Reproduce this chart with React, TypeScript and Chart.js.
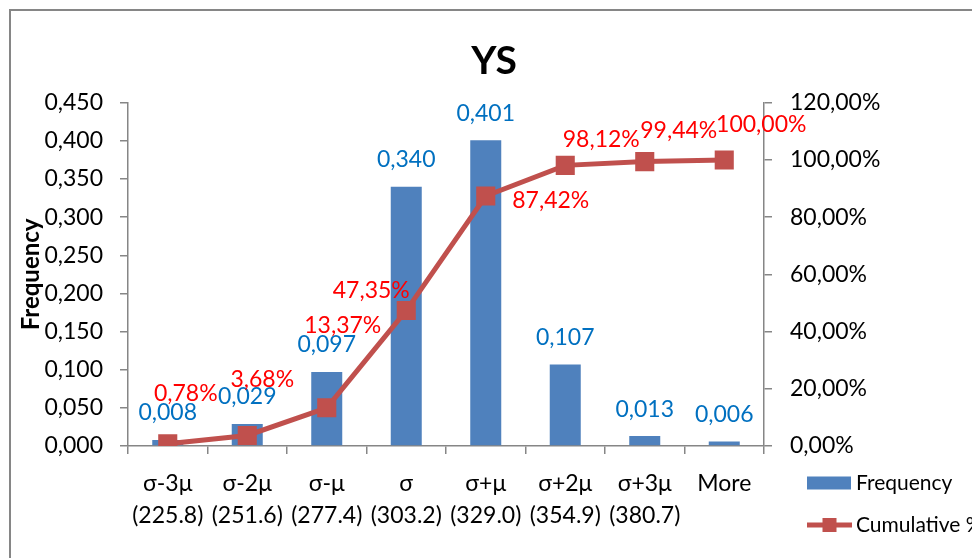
import React, { useEffect, useRef } from 'react';
import { Chart, registerables } from 'chart.js';

Chart.register(...registerables);

const FONT = 'Lato';

const categories: string[][] = [
  ['σ-3μ', '(225.8)'],
  ['σ-2μ', '(251.6)'],
  ['σ-μ', '(277.4)'],
  ['σ', '(303.2)'],
  ['σ+μ', '(329.0)'],
  ['σ+2μ', '(354.9)'],
  ['σ+3μ', '(380.7)'],
  ['More', ''],
];
const frequency = [0.008, 0.029, 0.097, 0.34, 0.401, 0.107, 0.013, 0.006];
const cumulative = [0.78, 3.68, 13.37, 47.35, 87.42, 98.12, 99.44, 100.0];
const frequencyLabels = frequency.map((v) => v.toFixed(3).replace('.', ','));
const cumulativeLabels = cumulative.map((v) => v.toFixed(2).replace('.', ',') + '%');

// label placement offsets relative to each point (style only)
const cumLabelOffsets: [number, number][] = [
  [18, -52],
  [15, -58],
  [16, -84],
  [-35, -22],
  [65, 3],
  [36, -28],
  [34, -33],
  [37, -37],
];

const BAR_COLOR = '#4F81BD';
const LINE_COLOR = '#C0504D';
const AXIS_COLOR = '#868686';

const valueLabels = {
  id: 'valueLabels',
  afterDatasetsDraw(chart: any) {
    const ctx = chart.ctx;
    ctx.save();
    ctx.font = `23px ${FONT}`;
    ctx.textAlign = 'center';
    ctx.textBaseline = 'middle';
    const barMeta = chart.getDatasetMeta(0);
    barMeta.data.forEach((el: any, i: number) => {
      ctx.fillStyle = '#0070C0';
      ctx.fillText(frequencyLabels[i], el.x, el.y - 27);
    });
    const lineMeta = chart.getDatasetMeta(1);
    lineMeta.data.forEach((el: any, i: number) => {
      ctx.fillStyle = '#FF0000';
      const [dx, dy] = cumLabelOffsets[i];
      ctx.fillText(cumulativeLabels[i], el.x + dx, el.y + dy + 2);
    });
    ctx.restore();
  },
};

const customLegend = {
  id: 'customLegend',
  afterDraw(chart: any) {
    const ctx = chart.ctx;
    const ca = chart.chartArea;
    const x0 = ca.right + 43;
    const y1 = ca.bottom + 37;
    const y2 = ca.bottom + 79;
    ctx.save();
    ctx.fillStyle = BAR_COLOR;
    ctx.fillRect(x0, y1 - 6.5, 44, 13);
    ctx.strokeStyle = LINE_COLOR;
    ctx.lineWidth = 5;
    ctx.beginPath();
    ctx.moveTo(x0, y2);
    ctx.lineTo(x0 + 45, y2);
    ctx.stroke();
    ctx.fillStyle = LINE_COLOR;
    ctx.fillRect(x0 + 22.5 - 7, y2 - 7, 14, 14);
    ctx.fillStyle = '#000';
    ctx.font = `21px ${FONT}`;
    ctx.textAlign = 'left';
    ctx.textBaseline = 'middle';
    ctx.fillText(chart.data.datasets[0].label, x0 + 49, y1);
    ctx.fillText(chart.data.datasets[1].label, x0 + 49, y2);
    ctx.restore();
  },
};

export default function App() {
  const canvasRef = useRef<HTMLCanvasElement | null>(null);

  useEffect(() => {
    if (!canvasRef.current) return;
    const tickFont = { family: FONT, size: 23 };
    const chart = new Chart(canvasRef.current, {
      type: 'bar',
      data: {
        labels: categories,
        datasets: [
          {
            type: 'bar',
            label: 'Frequency',
            data: frequency,
            backgroundColor: BAR_COLOR,
            barPercentage: 0.39,
            categoryPercentage: 1,
            yAxisID: 'y',
            order: 2,
          },
          {
            type: 'line',
            label: 'Cumulative %',
            data: cumulative,
            borderColor: LINE_COLOR,
            borderWidth: 5,
            backgroundColor: LINE_COLOR,
            pointStyle: 'rect',
            pointRadius: 13.5,
            pointBackgroundColor: LINE_COLOR,
            pointBorderColor: LINE_COLOR,
            pointBorderWidth: 0,
            tension: 0,
            yAxisID: 'y1',
            order: 1,
          } as any,
        ],
      },
      options: {
        responsive: false,
        animation: false,
        devicePixelRatio: 1,
        layout: { padding: { top: 0, left: 0, right: 0, bottom: 0 } },
        plugins: {
          legend: { display: false },
          tooltip: { enabled: false },
          title: {
            display: true,
            text: 'YS',
            color: '#000',
            font: { family: FONT, size: 39, weight: 'bold', lineHeight: 1.2 },
            padding: { top: 38, bottom: 18 },
          },
        },
        scales: {
          x: {
            grid: {
              display: true,
              drawOnChartArea: false,
              drawTicks: true,
              tickLength: 8,
              color: AXIS_COLOR,
              lineWidth: 1.5,
              offset: true,
            },
            border: { display: true, color: AXIS_COLOR, width: 1.5 },
            ticks: {
              color: '#000',
              font: { ...tickFont, lineHeight: 1.4 },
              padding: 13,
              maxRotation: 0,
              autoSkip: false,
            },
            afterFit: (s: any) => {
              s.height = 112;
            },
          },
          y: {
            position: 'left',
            min: 0,
            max: 0.45,
            grid: {
              display: true,
              drawOnChartArea: false,
              drawTicks: true,
              tickLength: 8,
              color: AXIS_COLOR,
              lineWidth: 1.5,
            },
            border: { display: true, color: AXIS_COLOR, width: 1.5 },
            ticks: {
              stepSize: 0.05,
              color: '#000',
              font: tickFont,
              padding: 17,
              callback: (v: any) => Number(v).toFixed(3).replace('.', ','),
            },
            title: {
              display: true,
              text: 'Frequency',
              color: '#000',
              font: { family: FONT, size: 24, weight: 'bold', lineHeight: 1.2 },
              padding: { top: 17, bottom: 0 },
            },
            afterFit: (s: any) => {
              s.width = 128;
            },
          },
          y1: {
            position: 'right',
            min: 0,
            max: 120,
            grid: {
              display: true,
              drawOnChartArea: false,
              drawTicks: true,
              tickLength: 8,
              color: AXIS_COLOR,
              lineWidth: 1.5,
            },
            border: { display: true, color: AXIS_COLOR, width: 1.5 },
            ticks: {
              stepSize: 20,
              color: '#000',
              font: tickFont,
              padding: 18,
              callback: (v: any) => Number(v).toFixed(2).replace('.', ',') + '%',
            },
            afterFit: (s: any) => {
              s.width = 224;
            },
          },
        },
      } as any,
      plugins: [valueLabels, customLegend],
    });
    return () => chart.destroy();
  }, []);

  return (
    <div
      style={{
        position: 'fixed',
        left: 0,
        top: 0,
        width: 972,
        height: 558,
        overflow: 'hidden',
        background: '#fff',
      }}
    >
      <div
        style={{
          position: 'absolute',
          left: 9,
          top: 9,
          width: 1000,
          height: 600,
          border: `2px solid ${AXIS_COLOR}`,
          boxSizing: 'border-box',
        }}
      />
      <canvas
        ref={canvasRef}
        width={988}
        height={558}
        style={{ position: 'absolute', left: 0, top: 0, width: 988, height: 558 }}
      />
    </div>
  );
}
